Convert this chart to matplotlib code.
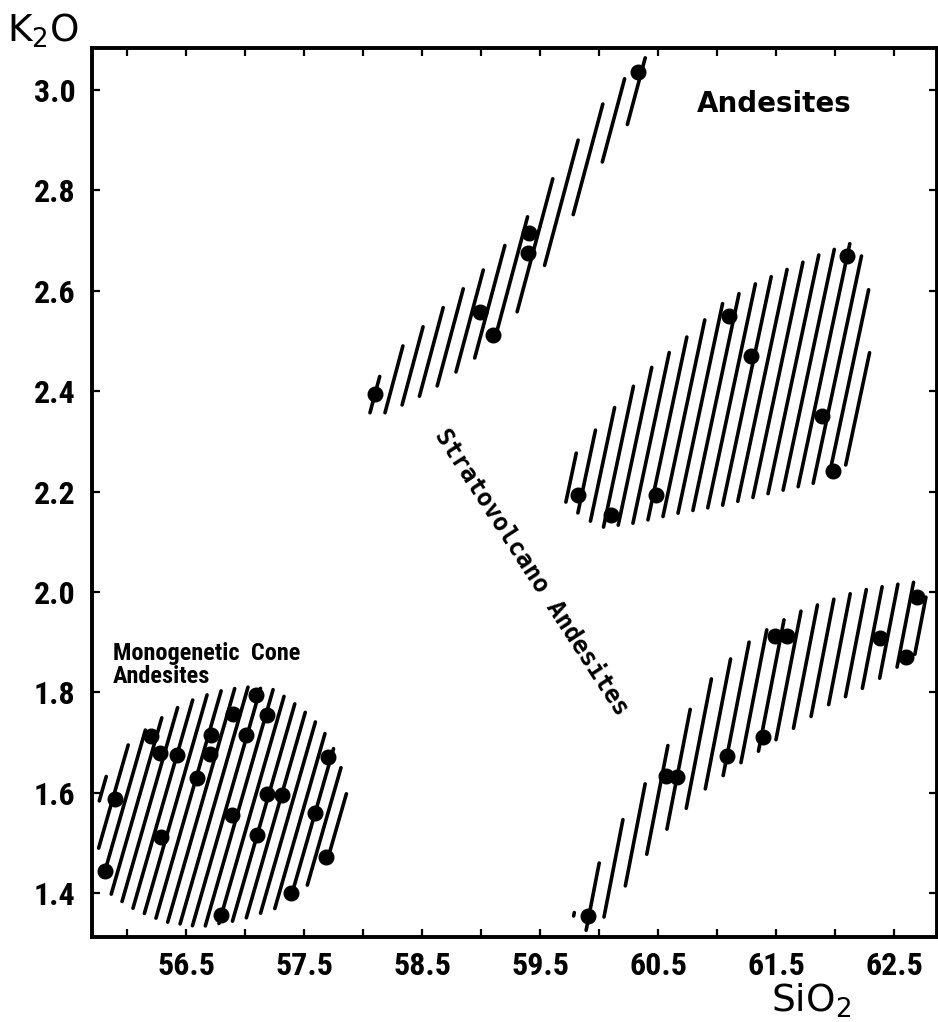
import numpy as np
import matplotlib.pyplot as plt
from matplotlib.ticker import MultipleLocator, FixedLocator, FormatStrFormatter

# K2O vs SiO2 (wt%) for the andesite groups
mono_sio2 = [55.81, 55.90, 56.20, 56.28, 56.42, 56.29, 56.59, 56.71, 56.70, 56.80, 56.90,
             56.89, 57.01, 57.09, 57.19, 57.10, 57.19, 57.31, 57.39, 57.59, 57.70, 57.69]
mono_k2o = [1.444, 1.588, 1.713, 1.679, 1.675, 1.512, 1.629, 1.715, 1.677, 1.357, 1.757,
            1.556, 1.715, 1.795, 1.755, 1.516, 1.598, 1.596, 1.400, 1.560, 1.671, 1.472]

upper_sio2 = [58.10, 58.99, 59.10, 59.41, 59.40, 60.33]
upper_k2o = [2.395, 2.558, 2.512, 2.715, 2.675, 3.036]

middle_sio2 = [59.82, 60.10, 60.48, 61.10, 61.29, 61.89, 61.98, 62.10]
middle_k2o = [2.193, 2.153, 2.193, 2.550, 2.470, 2.350, 2.240, 2.670]

lower_sio2 = [59.91, 60.57, 60.66, 61.08, 61.39, 61.49, 61.59, 62.38, 62.60, 62.69]
lower_k2o = [1.355, 1.633, 1.631, 1.673, 1.711, 1.912, 1.912, 1.908, 1.870, 1.990]

# outlines of the shaded fields
mono_field_x = [55.75, 55.77, 55.87, 56.03, 56.24, 56.49, 56.75, 57.00, 57.25, 57.47, 57.65,
                57.79, 57.86, 57.85, 57.78, 57.58, 57.30, 56.96, 56.62, 56.32, 56.07, 55.87, 55.77]
mono_field_y = [1.526, 1.606, 1.655, 1.701, 1.741, 1.779, 1.801, 1.811, 1.805, 1.769, 1.729,
                1.671, 1.606, 1.546, 1.502, 1.426, 1.373, 1.347, 1.333, 1.343, 1.367, 1.396, 1.446]

upper_field_x = [57.99, 58.23, 58.65, 59.09, 59.42, 59.77, 60.09, 60.39,
                 60.45, 60.31, 60.00, 59.65, 59.29, 58.98, 58.58, 58.20, 58.02]
upper_field_y = [2.367, 2.466, 2.560, 2.657, 2.755, 2.882, 2.992, 3.064,
                 3.060, 2.956, 2.847, 2.695, 2.552, 2.472, 2.402, 2.357, 2.357]

middle_field_x = [59.67, 59.78, 60.10, 60.39, 60.70, 61.03, 61.31, 61.58, 61.86, 62.14, 62.25, 62.29,
                  62.30, 62.25, 62.13, 61.86, 61.45, 61.05, 60.67, 60.29, 60.03, 59.86, 59.70]
middle_field_y = [2.203, 2.269, 2.359, 2.436, 2.498, 2.572, 2.612, 2.641, 2.671, 2.695, 2.661, 2.592,
                  2.498, 2.363, 2.259, 2.219, 2.197, 2.173, 2.157, 2.137, 2.129, 2.149, 2.183]

lower_field_x = [59.78, 59.86, 60.03, 60.22, 60.41, 60.57, 60.73, 60.92, 61.21, 61.48, 61.73, 61.97,
                 62.20, 62.44, 62.66, 62.75, 62.81, 62.70, 62.47, 62.21, 61.94, 61.69, 61.43, 61.17,
                 60.89, 60.62, 60.46, 60.29, 60.12, 59.97, 59.84]
lower_field_y = [1.357, 1.392, 1.474, 1.554, 1.625, 1.689, 1.751, 1.819, 1.890, 1.934, 1.964, 1.984,
                 2.002, 2.012, 2.020, 2.004, 1.960, 1.880, 1.841, 1.805, 1.775, 1.735, 1.695, 1.655,
                 1.606, 1.540, 1.496, 1.440, 1.376, 1.331, 1.323]

narrow = ['Roboto Condensed', 'Liberation Sans']

fig = plt.figure(figsize=(9.38, 10.22), dpi=100)
ax = fig.add_axes([0.0981, 0.0832, 0.9009, 0.8699])
ax.set_xlim(55.703, 62.864)
ax.set_ylim(1.3127, 3.0837)


def hatch_field(ax, fx, fy, angle, gap, lw=2.6):
    # parallel strokes (screen angle in degrees, gap in pixels) clipped to the outline
    pts = ax.transData.transform(np.column_stack([fx, fy]))
    a = np.radians(angle)
    d = np.array([np.cos(a), np.sin(a)])
    n = np.array([-np.sin(a), np.cos(a)])
    proj = pts @ n
    edges = list(zip(pts, np.roll(pts, -1, axis=0)))
    inv = ax.transData.inverted()
    for s in np.arange(proj.min() + gap / 2, proj.max(), gap):
        hits = []
        for p, q in edges:
            sp, sq = p @ n, q @ n
            if (sp - s) * (sq - s) < 0:
                t = (s - sp) / (sq - sp)
                hits.append(p + t * (q - p))
        hits.sort(key=lambda h: h @ d)
        for h0, h1 in zip(hits[0::2], hits[1::2]):
            seg = inv.transform([h0, h1])
            ax.plot(seg[:, 0], seg[:, 1], color='black', lw=lw,
                    solid_capstyle='round', zorder=2)


hatch_field(ax, mono_field_x, mono_field_y, 74, 12.4)
hatch_field(ax, upper_field_x, upper_field_y, 75, 14.5)
hatch_field(ax, middle_field_x, middle_field_y, 78, 14.0)
hatch_field(ax, lower_field_x, lower_field_y, 79, 15.0)

for xs, ys in [(mono_sio2, mono_k2o), (upper_sio2, upper_k2o),
               (middle_sio2, middle_k2o), (lower_sio2, lower_k2o)]:
    ax.plot(xs, ys, 'o', color='black', markersize=10.5, zorder=3)

# axes frame and ticks
for sp in ax.spines.values():
    sp.set_linewidth(2.8)
ax.xaxis.set_major_locator(FixedLocator(np.arange(56.5, 62.6, 1.0)))
ax.xaxis.set_minor_locator(FixedLocator(np.arange(56.0, 62.1, 1.0)))
ax.xaxis.set_major_formatter(FormatStrFormatter('%.1f'))
ax.yaxis.set_major_locator(MultipleLocator(0.2))
ax.yaxis.set_major_formatter(FormatStrFormatter('%.1f'))
ax.tick_params(which='both', direction='in', top=True, right=True, length=6, width=1.6)
ax.tick_params(axis='x', which='major', pad=10)
ax.tick_params(axis='y', which='major', pad=12)
for lab in ax.get_xticklabels() + ax.get_yticklabels():
    lab.set_family(narrow)
    lab.set_fontweight('bold')
    lab.set_fontsize(23)

fig.text(0.0075, 0.9589, 'K$_2$O', fontsize=27, ha='left', va='baseline')
fig.text(0.822, 0.0098, 'SiO$_2$', fontsize=27, ha='left', va='baseline')

ax.text(60.83, 2.956, 'Andesites', fontsize=20, fontweight='bold', ha='left', va='baseline')
ax.text(55.88, 1.8645, 'Monogenetic  Cone', family=narrow, fontsize=17.5, fontweight='bold',
        ha='left', va='baseline')
ax.text(55.88, 1.8187, 'Andesites', family=narrow, fontsize=17.5, fontweight='bold',
        ha='left', va='baseline')
ax.text(59.424, 2.040, 'Stratovolcano Andesites', family='DejaVu Sans Mono', fontsize=17.5,
        fontweight='bold', rotation=-57, rotation_mode='anchor', ha='center', va='center')

fig.savefig('out.png', dpi=100)
